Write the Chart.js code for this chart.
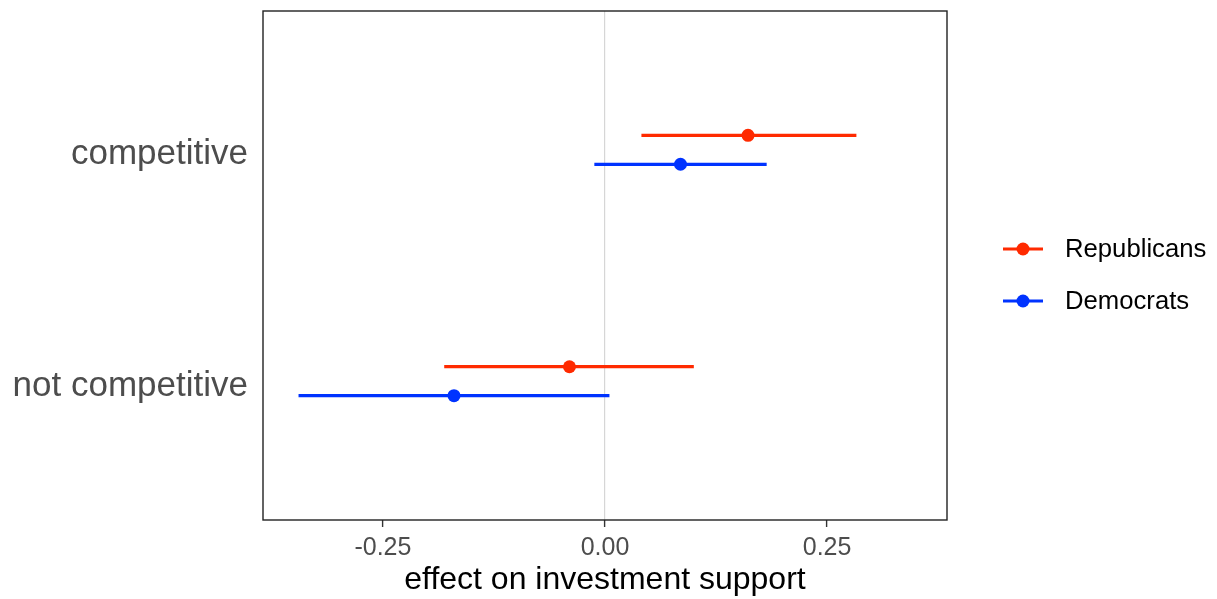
<!DOCTYPE html>
<html>
<head>
<meta charset="utf-8">
<script src="https://cdn.jsdelivr.net/npm/chart.js@4"></script>
<style>
  html, body { margin: 0; padding: 0; background: #fff; }
  #wrap { width: 1217px; height: 599px; }
</style>
</head>
<body>
<div id="wrap"><canvas id="miGrafico" width="1217" height="599"></canvas></div>
<script>
    // categories on the y axis (bottom to top) and their positions
    const categories = ['not competitive', 'competitive'];
    const catPos = [1, 2];

    // estimates and intervals, same order as categories
    const repEstimate = [-0.040, 0.161];
    const repLow      = [-0.181, 0.041];
    const repHigh     = [0.100, 0.283];
    const demEstimate = [-0.170, 0.085];
    const demLow      = [-0.345, -0.012];
    const demHigh     = [0.005, 0.182];

    const xTicks = [-0.25, 0, 0.25];
    const seriesNames = ['Republicans', 'Democrats'];

    const colRep = '#ff2a00';
    const colDem = '#0033ff';
    const dodge = 0.0625;
    const FONT = "'Liberation Sans', Arial, Helvetica, sans-serif";

    function barSets(low, high, shift, color) {
      return low.map((l, i) => ({
        type: 'line',
        data: [{ x: l, y: catPos[i] + shift }, { x: high[i], y: catPos[i] + shift }],
        borderColor: color,
        borderWidth: 3.2,
        pointRadius: 0,
        fill: false
      }));
    }
    function pointSet(est, shift, color, name) {
      return {
        type: 'scatter',
        label: name,
        data: est.map((v, i) => ({ x: v, y: catPos[i] + shift })),
        backgroundColor: color,
        borderColor: color,
        pointRadius: 6.5,
        pointHoverRadius: 6.5,
        borderWidth: 0
      };
    }

    const frame = {
      id: 'frame',
      afterDraw(chart) {
        const a = chart.chartArea, c = chart.ctx;
        c.save();
        c.strokeStyle = '#222222';
        c.lineWidth = 1.4;
        c.strokeRect(a.left, a.top, a.right - a.left, a.bottom - a.top);
        // legend
        const items = [[seriesNames[0], colRep, 249], [seriesNames[1], colDem, 301]];
        c.font = '25.7px ' + FONT;
        c.textBaseline = 'middle';
        items.forEach(([txt, col, y]) => {
          c.strokeStyle = col;
          c.lineWidth = 3.2;
          c.beginPath(); c.moveTo(1003, y); c.lineTo(1043, y); c.stroke();
          c.fillStyle = col;
          c.beginPath(); c.arc(1023, y, 6.5, 0, Math.PI * 2); c.fill();
          c.fillStyle = '#000';
          c.fillText(txt, 1065, y + 1);
        });
        c.restore();
      }
    };

    const ctx = document.getElementById('miGrafico').getContext('2d');
    const miGrafico = new Chart(ctx, {
      type: 'scatter',
      data: {
        datasets: [
          ...barSets(repLow, repHigh, dodge, colRep),
          ...barSets(demLow, demHigh, -dodge, colDem),
          pointSet(repEstimate, dodge, colRep, seriesNames[0]),
          pointSet(demEstimate, -dodge, colDem, seriesNames[1])
        ]
      },
      options: {
        responsive: false,
        animation: false,
        layout: { padding: { top: 11, right: 270, left: 0, bottom: 0 } },
        plugins: {
          legend: { display: false },
          tooltip: { enabled: false }
        },
        scales: {
          x: {
            type: 'linear',
            min: -0.385,
            max: 0.385,
            afterBuildTicks: s => { s.ticks = xTicks.map(v => ({ value: v })); },
            afterFit: s => { s.height = 79; s.paddingLeft = 0; s.paddingRight = 0; },
            border: { display: false },
            grid: {
              color: c => (c.tick && c.tick.value === 0) ? '#d6d6d6' : 'rgba(0,0,0,0)',
              lineWidth: 1.2,
              drawTicks: true,
              tickLength: 7,
              tickColor: '#333333',
              tickWidth: 1.4
            },
            ticks: {
              font: { family: FONT, size: 25 },
              color: '#4d4d4d',
              padding: 6,
              callback: v => v.toFixed(2)
            },
            title: {
              display: true,
              text: 'effect on investment support',
              font: { family: FONT, size: 32 },
              color: '#000',
              padding: { top: 0, bottom: 0 }
            }
          },
          y: {
            type: 'linear',
            min: 0.4,
            max: 2.6,
            afterBuildTicks: s => { s.ticks = catPos.map(v => ({ value: v })); },
            afterFit: s => { s.width = 263; s.paddingTop = 0; s.paddingBottom = 0; },
            border: { display: false },
            grid: { display: false },
            ticks: {
              font: { family: FONT, size: 35 },
              color: '#4d4d4d',
              padding: 7,
              labelOffset: 5,
              callback: v => categories[catPos.indexOf(v)]
            }
          }
        }
      },
      plugins: [frame]
    });
</script>
</body>
</html>
